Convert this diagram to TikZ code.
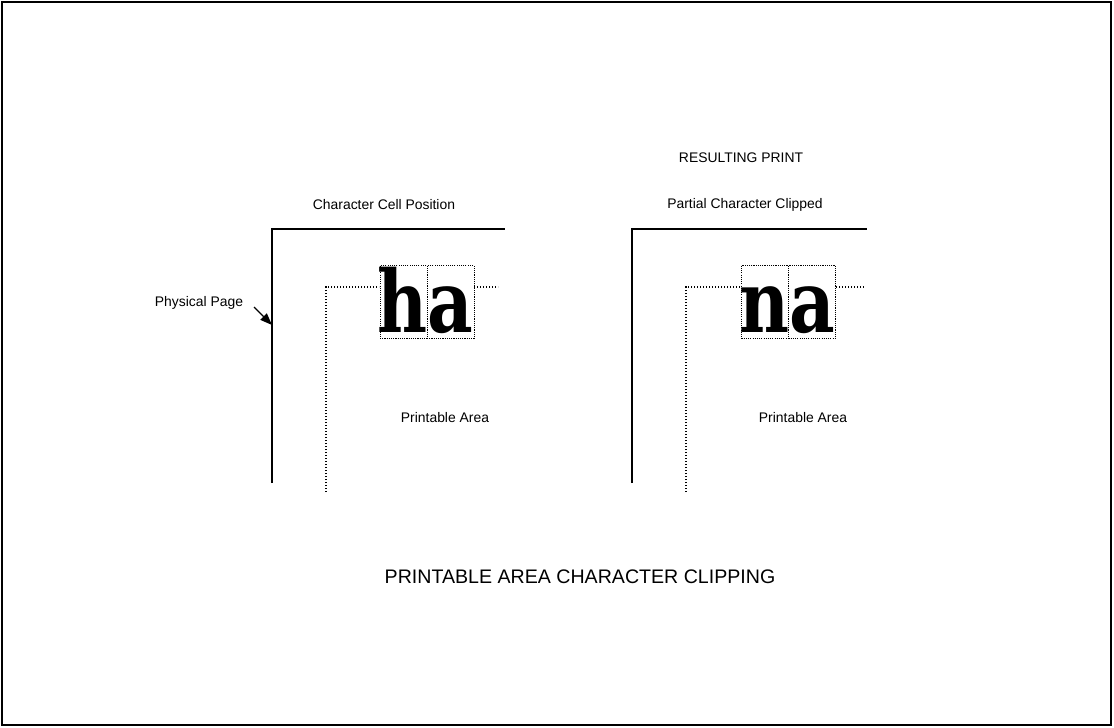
\documentclass[tikz,border=0pt]{standalone}
\usepackage{fontspec}
\setsansfont{Liberation Sans}
\newfontfamily\glyphfont{DejaVu Serif}
\usetikzlibrary{arrows.meta}
\begin{document}
\begin{tikzpicture}[x=1pt,y=-1pt,
  lbl/.style={font=\sffamily\fontsize{13.9}{16}\selectfont, inner sep=0pt},
  title/.style={font=\sffamily\fontsize{19.6}{22}\selectfont, inner sep=0pt},
  page/.style={line width=1.4pt},
  parea/.style={line width=1.3pt, dash pattern=on 1.4pt off 1.6pt},
  cellbox/.style={draw, line width=1pt, dash pattern=on 1.1pt off 1.1pt, minimum width=47pt, minimum height=73pt, inner sep=0pt, anchor=north west},
  glyph/.style={font=\glyphfont\bfseries\fontsize{86}{86}\selectfont, inner sep=0pt, anchor=base}]
\useasboundingbox (0,0) rectangle (1114,728);
\draw[line width=1.6pt] (2,2) rectangle (1111,725);
% ---------- left ----------
\coordinate (Lpb) at (272,483);
\coordinate (Lpc) at (272,229);
\coordinate (Lpe) at (505,229);
\draw[page] (Lpb) -- (Lpc) -- (Lpe);
\coordinate (Lab) at (326,492);
\coordinate (Lac) at (326,287);
\coordinate (Lcl) at (379,287);
\coordinate (Lcr) at (474,287);
\coordinate (Lae) at (498,287);
\draw[parea] (Lab) -- (Lac) -- (Lcl);
\draw[parea] (Lcr) -- (Lae);
\node[glyph] (Lh) at (403,332) {\scalebox{0.8}[1]{h}};
\node[glyph] (La) at (450.5,332) {\scalebox{0.82}[1]{a}};
\node[cellbox] (Lc1) at (379.5,265) {};
\node[cellbox] (Lc2) at (426.5,265) {};
\node[lbl] (Lt) at (384,205) {Character Cell Position};
\node[lbl] (pp) at (199,303) {Physical Page};
\coordinate (pps) at (254,307);
\coordinate (ppt) at (272,325);
\draw[-{Triangle[length=12pt,width=9pt]}, line width=1.2pt] (pps) -- (ppt);
\node[lbl] (Lpa) at (445,418) {Printable Area};
% ---------- right ----------
\coordinate (Rpb) at (632,483);
\coordinate (Rpc) at (632,229);
\coordinate (Rpe) at (867,229);
\draw[page] (Rpb) -- (Rpc) -- (Rpe);
\coordinate (Rab) at (686,492);
\coordinate (Rac) at (686,287);
\coordinate (Rcl) at (741,287);
\coordinate (Rcr) at (836,287);
\coordinate (Rae) at (865,287);
\draw[parea] (Rab) -- (Rac) -- (Rcl);
\draw[parea] (Rcr) -- (Rae);
\node[glyph] (Rn) at (764.5,332) {\scalebox{0.8}[1]{n}};
\node[glyph] (Ra) at (812,332) {\scalebox{0.82}[1]{a}};
\node[cellbox] (Rc1) at (741,265) {};
\node[cellbox] (Rc2) at (788,265) {};
\node[lbl] (Rr) at (741,158) {RESULTING PRINT};
\node[lbl] (Rt) at (745,205) {Partial Character Clipped};
\node[lbl] (Rpa) at (803,418) {Printable Area};
% ---------- title ----------
\node[title] (T) at (580,577) {PRINTABLE AREA CHARACTER CLIPPING};
\end{tikzpicture}
\end{document}
